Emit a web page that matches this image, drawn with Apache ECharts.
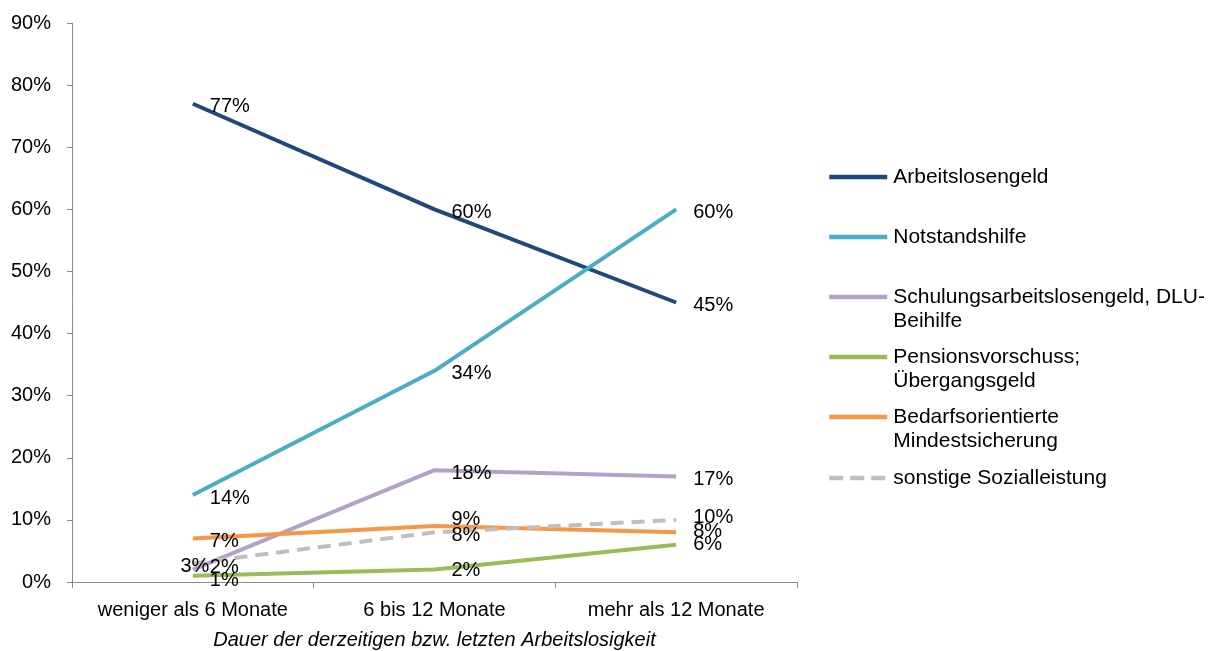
<!DOCTYPE html>
<html>
<head>
<meta charset="utf-8">
<script src="https://cdn.jsdelivr.net/npm/echarts@6/dist/echarts.min.js"></script>
<style>
  html, body { margin: 0; padding: 0; background: #ffffff; }
  #chart { width: 1210px; height: 651px; }
</style>
</head>
<body>
<div id="chart"></div>
<script>
// Kategorien: Dauer der Arbeitslosigkeit
const categories = ['weniger als 6 Monate', '6 bis 12 Monate', 'mehr als 12 Monate'];

// Anteile in Prozent je Leistungsart
const arbeitslosengeld = [77, 60, 45];
const notstandshilfe = [14, 34, 60];
const schulungsarbeitslosengeld = [2, 18, 17];
const pensionsvorschuss = [1, 2, 6];
const mindestsicherung = [7, 9, 8];
const sonstigeLeistung = [3, 8, 10];

// Achsenbeschriftung der y-Achse
const yTickValues = [0, 10, 20, 30, 40, 50, 60, 70, 80, 90];

const seriesDefs = [
  { name: 'Arbeitslosengeld', legend: 'Arbeitslosengeld', data: arbeitslosengeld, color: '#1F497D', dashed: false },
  { name: 'Notstandshilfe', legend: 'Notstandshilfe', data: notstandshilfe, color: '#4BACC6', dashed: false },
  { name: 'Schulungsarbeitslosengeld, DLU-Beihilfe', legend: 'Schulungsarbeitslosengeld, DLU-\nBeihilfe', data: schulungsarbeitslosengeld, color: '#B3A2C7', dashed: false },
  { name: 'Pensionsvorschuss; Übergangsgeld', legend: 'Pensionsvorschuss;\nÜbergangsgeld', data: pensionsvorschuss, color: '#9BBB59', dashed: false },
  { name: 'Bedarfsorientierte Mindestsicherung', legend: 'Bedarfsorientierte\nMindestsicherung', data: mindestsicherung, color: '#F79646', dashed: false },
  { name: 'sonstige Sozialleistung', legend: 'sonstige Sozialleistung', data: sonstigeLeistung, color: '#BFBFBF', dashed: true }
];

// Verschiebung einzelner Beschriftungen, damit sich überlappende Werte lesen lassen
const labelTweaks = {
  'Schulungsarbeitslosengeld, DLU-Beihilfe': { 0: { offset: [0, -2] } },
  'Pensionsvorschuss; Übergangsgeld': { 0: { offset: [0, 5] }, 1: { offset: [0, 1] }, 2: { offset: [0, 0] } },
  'Bedarfsorientierte Mindestsicherung': { 1: { offset: [0, -7] }, 2: { offset: [0, -1] } },
  'sonstige Sozialleistung': { 0: { position: 'inside', offset: [2, 3] }, 2: { offset: [0, -2] } }
};

// Legendenpositionen (obere Kante je Eintrag)
const legendTops = [165, 225, 261, 321, 381, 466];

const chart = echarts.init(document.getElementById('chart'), null, { renderer: 'canvas' });

const FONT = 'Liberation Sans, Arial, sans-serif';

const series = seriesDefs.map(function (s) {
  const tweaks = labelTweaks[s.name] || {};
  return {
    name: s.name,
    type: 'line',
    data: s.data.map(function (v, i) {
      const item = { value: v };
      if (tweaks[i]) item.label = tweaks[i];
      return item;
    }),
    symbol: 'circle',
    symbolSize: 0,
    showSymbol: true,
    itemStyle: { color: s.color },
    lineStyle: { color: s.color, width: 4, type: s.dashed ? [13, 8] : 'solid' },
    label: {
      show: true,
      position: 'right',
      distance: 17,
      offset: [0, 3],
      color: '#000000',
      fontFamily: FONT,
      fontSize: 20,
      formatter: function (p) { return p.value + '%'; }
    },
    emphasis: { disabled: true },
    animation: false
  };
});

// Zweizeilige Einträge: eine leere Zeile oben, damit die Linie auf Höhe der ersten Textzeile sitzt
const legends = seriesDefs.map(function (s, i) {
  const twoLines = s.legend.indexOf('\n') >= 0;
  const text = twoLines ? '\n' + s.legend : s.legend;
  return {
    left: 827,
    top: legendTops[i],
    orient: 'vertical',
    padding: 0,
    itemWidth: 58,
    itemHeight: 14,
    itemGap: 0,
    selectedMode: false,
    itemStyle: { opacity: 0 },
    lineStyle: { width: 4.5, color: s.color, type: s.dashed ? [14, 7] : 'solid' },
    data: [s.name],
    formatter: function () { return text; },
    textStyle: {
      color: '#000000',
      fontFamily: FONT,
      fontSize: 21,
      lineHeight: 24,
      padding: [0, 0, 0, 1]
    }
  };
});

chart.setOption({
  backgroundColor: '#ffffff',
  animation: false,
  grid: { left: 72, right: 413, top: 23, bottom: 69, containLabel: false, outerBoundsMode: 'none' },
  legend: legends,
  xAxis: {
    type: 'category',
    data: categories,
    boundaryGap: true,
    axisLine: { show: true, lineStyle: { color: '#8C8C8C', width: 1 } },
    axisTick: { show: true, interval: 0, length: 6, lineStyle: { color: '#8C8C8C' } },
    axisLabel: { color: '#000000', fontFamily: FONT, fontSize: 20, margin: 18, interval: 0 },
    name: 'Dauer der derzeitigen bzw. letzten Arbeitslosigkeit',
    nameLocation: 'middle',
    nameGap: 48,
    nameTextStyle: { color: '#000000', fontFamily: FONT, fontSize: 20, fontStyle: 'italic' },
    splitLine: { show: false }
  },
  yAxis: {
    type: 'value',
    min: yTickValues[0],
    max: yTickValues[yTickValues.length - 1],
    interval: yTickValues[1] - yTickValues[0],
    axisLine: { show: true, lineStyle: { color: '#8C8C8C', width: 1 } },
    axisTick: { show: true, length: 5, lineStyle: { color: '#8C8C8C' } },
    axisLabel: { color: '#000000', fontFamily: FONT, fontSize: 20, margin: 21, formatter: '{value}%' },
    splitLine: { show: false }
  },
  series: series
});
</script>
</body>
</html>
